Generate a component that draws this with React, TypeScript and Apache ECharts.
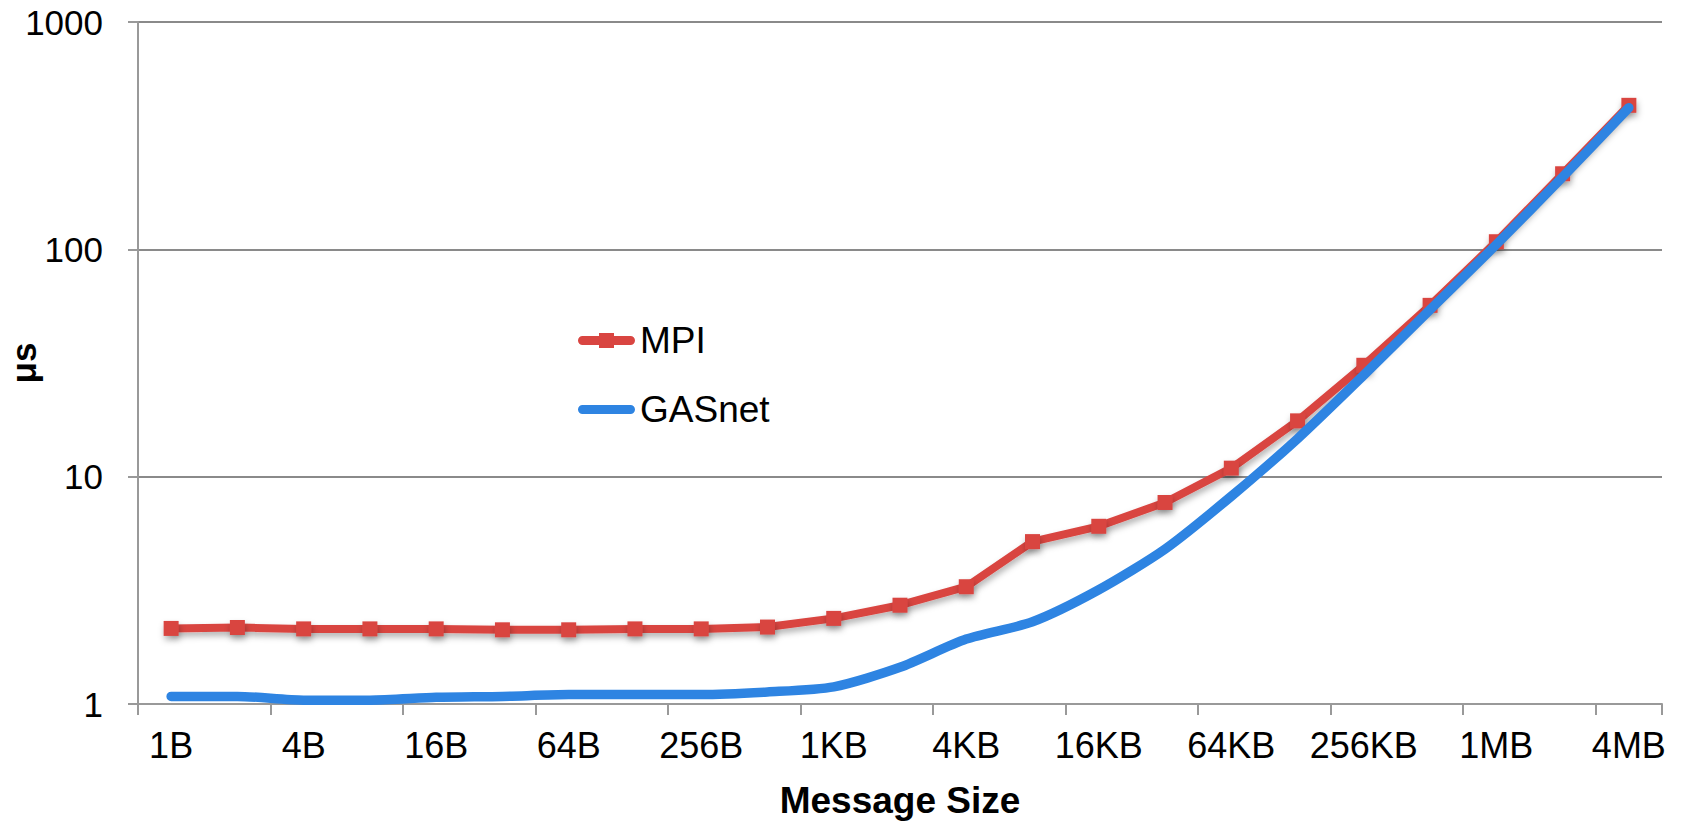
import React, { useEffect, useRef } from "react";
import * as echarts from "echarts";

const categories = [
  "1B", "2B", "4B", "8B", "16B", "32B", "64B", "128B", "256B", "512B",
  "1KB", "2KB", "4KB", "8KB", "16KB", "32KB", "64KB", "128KB", "256KB", "512KB",
  "1MB", "2MB", "4MB",
];
const mpiValues = [
  2.15, 2.17, 2.14, 2.14, 2.14, 2.12, 2.12, 2.14, 2.14, 2.18,
  2.38, 2.72, 3.28, 5.18, 6.05, 7.7, 10.9, 17.6, 30.9, 56.7,
  108, 215, 430,
];
const gasnetValues = [
  1.08, 1.08, 1.04, 1.04, 1.07, 1.08, 1.1, 1.1, 1.1, 1.13,
  1.19, 1.45, 1.93, 2.3, 3.18, 4.8, 8.2, 14.7, 28.0, 54.3,
  105, 208, 420,
];

const FONT = "'Liberation Sans', Arial, Helvetica, sans-serif";
const RED = "#D94541";
const BLUE = "#2E84E2";

const MPI_ICON =
  "path://M4.5,3 L52.5,3 A4.5,4.5 0 0 1 52.5,12 L4.5,12 A4.5,4.5 0 0 1 4.5,3 Z M21,0 L36,0 L36,15 L21,15 Z";
const GAS_ICON =
  "path://M4.5,3 L52.5,3 A4.5,4.5 0 0 1 52.5,12 L4.5,12 A4.5,4.5 0 0 1 4.5,3 Z M28,0 L28.01,0 L28.01,0.01 Z M28,15 L28.01,15 L28.01,14.99 Z";

export default function App() {
  const ref = useRef<HTMLDivElement>(null);
  useEffect(() => {
    if (!ref.current) return;
    const chart = echarts.init(ref.current, undefined, { renderer: "svg" });
    chart.setOption({
      animation: false,
      backgroundColor: "#ffffff",
      grid: {
        left: 138,
        right: 19,
        top: 22,
        bottom: 118,
        containLabel: false,
        outerBoundsMode: "none",
      },
      legend: {
        orient: "vertical",
        left: 573,
        top: 317,
        itemWidth: 57,
        itemHeight: 15,
        itemGap: 32,
        textStyle: { fontFamily: FONT, fontSize: 37, color: "#000" },
        data: [
          { name: "MPI", icon: MPI_ICON },
          { name: "GASnet", icon: GAS_ICON },
        ],
      },
      xAxis: {
        type: "category",
        data: categories,
        boundaryGap: true,
        name: "Message Size",
        nameLocation: "middle",
        nameGap: 78,
        nameMoveOverlap: false,
        nameTextStyle: { fontFamily: FONT, fontSize: 37, fontWeight: "bold", color: "#000" },
        axisLine: { lineStyle: { color: "#999999", width: 2 } },
        axisTick: { show: true, length: 11, lineStyle: { color: "#999999", width: 2 } },
        axisLabel: {
          interval: 1,
          fontFamily: FONT,
          fontSize: 36,
          color: "#000",
          margin: 23,
        },
        splitLine: { show: false },
      },
      yAxis: {
        type: "log",
        logBase: 10,
        min: 1,
        max: 1000,
        name: "μs",
        nameLocation: "middle",
        nameGap: 97,
        nameMoveOverlap: false,
        nameTextStyle: { fontFamily: FONT, fontSize: 35, fontWeight: "bold", color: "#000" },
        axisLine: { show: true, lineStyle: { color: "#999999", width: 2 } },
        axisTick: { show: true, length: 10, lineStyle: { color: "#999999", width: 2 } },
        axisLabel: {
          fontFamily: FONT,
          fontSize: 35,
          color: "#000",
          margin: 35,
          formatter: (v: number) => String(Math.round(v)),
        },
        splitLine: { show: true, lineStyle: { color: "#8a8a8a", width: 2 } },
        minorTick: { show: false },
      },
      series: [
        {
          name: "MPI",
          type: "line",
          data: mpiValues,
          symbol: "rect",
          symbolSize: 15,
          color: RED,
          lineStyle: {
            color: RED,
            width: 8,
            shadowColor: "rgba(0,0,0,0.3)",
            shadowBlur: 6,
            shadowOffsetX: 1,
            shadowOffsetY: 4,
          },
          itemStyle: {
            color: RED,
            shadowColor: "rgba(0,0,0,0.3)",
            shadowBlur: 6,
            shadowOffsetX: 1,
            shadowOffsetY: 4,
          },
          z: 2,
        },
        {
          name: "GASnet",
          type: "line",
          data: gasnetValues,
          symbol: "none",
          smooth: 0.25,
          color: BLUE,
          lineStyle: { color: BLUE, width: 9.5, cap: "round", join: "round" },
          itemStyle: { color: BLUE },
          z: 3,
        },
      ],
    });
    return () => chart.dispose();
  }, []);
  return (
    <div
      ref={ref}
      style={{ position: "fixed", left: 0, top: 0, width: 1681, height: 822, background: "#fff" }}
    />
  );
}
